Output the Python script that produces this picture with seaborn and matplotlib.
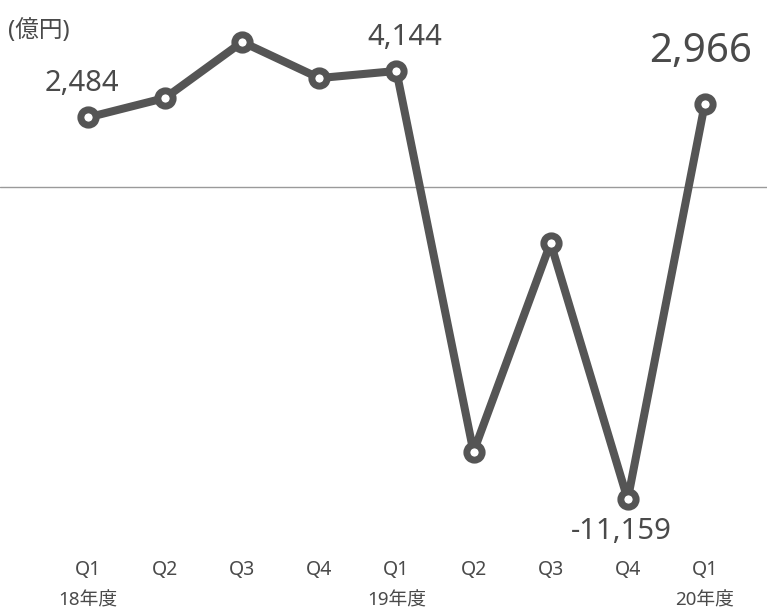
import matplotlib
matplotlib.use("Agg")
import matplotlib.pyplot as plt
import seaborn as sns
import pandas as pd

quarters = ["Q1", "Q2", "Q3", "Q4", "Q1", "Q2", "Q3", "Q4", "Q1"]
years = ["18年度", "", "", "", "19年度", "", "", "", "20年度"]
values = [2484, 3180, 5180, 3890, 4144, -9460, -2000, -11159, 2966]
unit_label = "(億円)"

sns.set_theme(style="white")
plt.rcParams['font.family'] = ['Noto Sans', 'Noto Sans CJK JP', 'DejaVu Sans']

df = pd.DataFrame({"i": range(len(values)), "v": values})

fig = plt.figure(figsize=(7.67, 6.11), dpi=100)
ax = fig.add_axes([0, 0, 1, 1])
ax.set_axis_off()

dx = 77.1
x0 = 88
ax.set_xlim(-x0 / dx, (767 - x0) / dx)
ax.set_ylim(-(611 - 187) / 0.028, 187 / 0.028)

ax.axhline(0, color="#9a9a9a", lw=1.0, zorder=1)

col = "#555555"
sns.lineplot(data=df, x="i", y="v", ax=ax, color=col, lw=5.8,
             marker="o", markersize=11, markeredgewidth=5,
             markerfacecolor="white", markeredgecolor=col, zorder=3)

tc = "#4a4a4a"
fig.text(8 / 767, 1 - 31 / 611, unit_label, fontsize=17, color=tc,
         va="center", ha="left")

labels = {0: ("2,484", (-6, 34), 21), 4: ("4,144", (8, 33), 21),
          7: ("-11,159", (-6, -32), 21), 8: ("2,966", (-4, 52), 29)}
for i, (txt, off, fs) in labels.items():
    ax.annotate(txt, (i, values[i]), xytext=off, textcoords="offset pixels",
                ha="center", va="center", fontsize=fs, color=tc)

for i, (q, y) in enumerate(zip(quarters, years)):
    ax.text(i, -(570 - 187) / 0.028, q, ha="center", va="center",
            fontsize=14, color=tc)
    if y:
        ax.text(i, -(600 - 187) / 0.028, y, ha="center", va="center",
                fontsize=13.5, color=tc)

fig.savefig("out.png", dpi=100)
